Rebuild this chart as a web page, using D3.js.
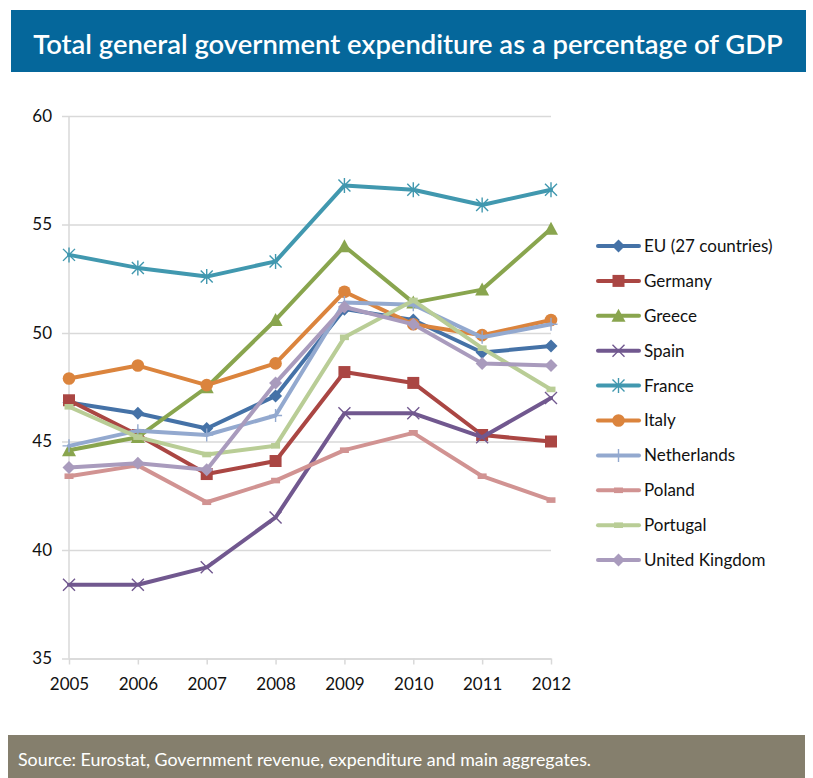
<!DOCTYPE html>
<html>
<head>
<meta charset="utf-8">
<script src="https://cdn.jsdelivr.net/npm/d3@7/dist/d3.min.js"></script>
<style>
  html, body { margin: 0; padding: 0; background: #ffffff; }
  svg { display: block; }
  text { font-family: Lato, "Open Sans", "Noto Sans", sans-serif; }
</style>
</head>
<body>
<svg id="chart" width="813" height="778"></svg>
<script>
// Years on the category axis
const years = [2005, 2006, 2007, 2008, 2009, 2010, 2011, 2012];

// Total general government expenditure, % of GDP
const eu27        = [46.8, 46.3, 45.6, 47.1, 51.1, 50.6, 49.1, 49.4];
const germany     = [46.9, 45.3, 43.5, 44.1, 48.2, 47.7, 45.3, 45.0];
const greece      = [44.6, 45.2, 47.5, 50.6, 54.0, 51.4, 52.0, 54.8];
const spain       = [38.4, 38.4, 39.2, 41.5, 46.3, 46.3, 45.2, 47.0];
const france      = [53.6, 53.0, 52.6, 53.3, 56.8, 56.6, 55.9, 56.6];
const italy       = [47.9, 48.5, 47.6, 48.6, 51.9, 50.4, 49.9, 50.6];
const netherlands = [44.8, 45.5, 45.3, 46.2, 51.4, 51.3, 49.8, 50.4];
const poland      = [43.4, 43.9, 42.2, 43.2, 44.6, 45.4, 43.4, 42.3];
const portugal    = [46.6, 45.2, 44.4, 44.8, 49.8, 51.5, 49.3, 47.4];
const uk          = [43.8, 44.0, 43.7, 47.7, 51.2, 50.4, 48.6, 48.5];

const seriesNames = ["EU (27 countries)", "Germany", "Greece", "Spain", "France",
                     "Italy", "Netherlands", "Poland", "Portugal", "United Kingdom"];
const seriesValues = [eu27, germany, greece, spain, france, italy, netherlands, poland, portugal, uk];
const seriesColors = ["#4572A7", "#AA4643", "#89A54E", "#71588F", "#4198AF",
                      "#DB843D", "#93A9CF", "#D19392", "#B9CD96", "#A99BBD"];
const seriesMarkers = ["diamond", "square", "triangle", "x", "star",
                       "circle", "plus", "dash", "dash", "diamond"];

const yTicks = [35, 40, 45, 50, 55, 60];

const titleText = "Total general government expenditure as a percentage of GDP";
const sourceText = "Source: Eurostat, Government revenue, expenditure and main aggregates.";

const svg = d3.select("#chart");

// Scale a text element's font size so the string spans a given width
function fitWidth(sel, target) {
  const node = sel.node();
  const fs = parseFloat(sel.attr("font-size"));
  const w = node.getComputedTextLength();
  const nfs = w > 0 ? fs * target / w : fs;
  sel.attr("font-size", nfs.toFixed(2));
  return nfs;
}

// Title band
svg.append("rect").attr("x", 11).attr("y", 10).attr("width", 795).attr("height", 62)
  .attr("fill", "#05679B");
const title = svg.append("text").attr("x", 408).attr("y", 54)
  .attr("text-anchor", "middle").attr("fill", "#ffffff")
  .attr("font-size", 26).attr("font-weight", 600).text(titleText);
fitWidth(title, 750);

// Source band
svg.append("rect").attr("x", 8).attr("y", 735).attr("width", 797).attr("height", 43)
  .attr("fill", "#857F6D");
const source = svg.append("text").attr("x", 18).attr("y", 766)
  .attr("fill", "#ffffff").attr("font-size", 16).text(sourceText);
fitWidth(source, 573);

// Plot geometry
const x = d3.scalePoint().domain(years).range([69, 551]);
const y = d3.scaleLinear().domain([35, 60]).range([658.5, 116]);

// Horizontal gridlines (extend a little left of the axis as tick marks)
svg.append("g")
  .attr("transform", "translate(551,0)")
  .call(d3.axisLeft(y).tickValues(yTicks).tickSize(551 - 62).tickFormat(""))
  .call(g => g.select(".domain").remove())
  .call(g => g.selectAll("line").attr("stroke", "#d9d9d9").attr("stroke-width", 1.5));

// Value labels
svg.append("g")
  .attr("transform", "translate(62,0)")
  .call(d3.axisLeft(y).tickValues(yTicks).tickSize(0).tickPadding(10).tickFormat(d3.format("d")))
  .call(g => g.select(".domain").remove())
  .call(g => g.selectAll("text").attr("font-size", 17).attr("fill", "#111")
    .style("font-family", "Lato, 'Open Sans', sans-serif"));

// Vertical axis line
svg.append("line").attr("x1", 69).attr("x2", 69).attr("y1", 116).attr("y2", 658.5)
  .attr("stroke", "#d9d9d9").attr("stroke-width", 1.5);

// Category axis
svg.append("g")
  .attr("transform", "translate(0,658.5)")
  .call(d3.axisBottom(x).tickSize(6).tickSizeOuter(0).tickPadding(13))
  .call(g => g.select(".domain").attr("stroke", "#d9d9d9").attr("stroke-width", 1.5))
  .call(g => g.selectAll("line").attr("stroke", "#d9d9d9").attr("stroke-width", 1.5))
  .call(g => g.selectAll("text").attr("font-size", 17).attr("fill", "#111")
    .style("font-family", "Lato, 'Open Sans', sans-serif"));

// Marker shapes
function markerPath(type) {
  const p = d3.path();
  if (type === "diamond") {
    const r = 6.5;
    p.moveTo(0, -r); p.lineTo(r, 0); p.lineTo(0, r); p.lineTo(-r, 0); p.closePath();
  } else if (type === "square") {
    const r = 6;
    p.rect(-r, -r, 2 * r, 2 * r);
  } else if (type === "triangle") {
    const r = 7;
    p.moveTo(0, -r); p.lineTo(r, r * 0.85); p.lineTo(-r, r * 0.85); p.closePath();
  } else if (type === "circle") {
    p.arc(0, 0, 6.3, 0, 2 * Math.PI);
  } else if (type === "x") {
    const r = 6;
    p.moveTo(-r, -r); p.lineTo(r, r); p.moveTo(-r, r); p.lineTo(r, -r);
  } else if (type === "star") {
    const r = 6;
    p.moveTo(-r, -r); p.lineTo(r, r); p.moveTo(-r, r); p.lineTo(r, -r);
    p.moveTo(0, -r * 1.25); p.lineTo(0, r * 1.25);
  } else if (type === "plus") {
    const r = 6.5;
    p.moveTo(-r, 0); p.lineTo(r, 0); p.moveTo(0, -r); p.lineTo(0, r);
  } else if (type === "dash") {
    p.rect(-4.5, -2.8, 9, 5.6);
  }
  return p.toString();
}
const strokeOnly = t => t === "x" || t === "star" || t === "plus";

const line = d3.line().x((d, i) => x(years[i])).y(d => y(d));

// Series
seriesValues.forEach((vals, si) => {
  const color = seriesColors[si];
  const mk = seriesMarkers[si];
  const g = svg.append("g").attr("class", "series");
  g.append("path").datum(vals).attr("d", line)
    .attr("fill", "none").attr("stroke", color).attr("stroke-width", 4)
    .attr("stroke-linejoin", "round").attr("stroke-linecap", "round");
  g.selectAll("path.mk").data(vals).join("path").attr("class", "mk")
    .attr("transform", (d, i) => `translate(${x(years[i])},${y(d)})`)
    .attr("d", markerPath(mk))
    .attr("fill", strokeOnly(mk) ? "none" : color)
    .attr("stroke", color)
    .attr("stroke-width", strokeOnly(mk) ? 1.4 : 0);
});

// Legend
const legend = svg.append("g").attr("transform", "translate(598,246)");
let legendFont = 16;
seriesNames.forEach((name, si) => {
  const color = seriesColors[si];
  const mk = seriesMarkers[si];
  const row = legend.append("g").attr("transform", `translate(0,${si * 34.9})`);
  row.append("line").attr("x1", 0).attr("x2", 41).attr("y1", 0).attr("y2", 0)
    .attr("stroke", color).attr("stroke-width", 4).attr("stroke-linecap", "round");
  row.append("path").attr("transform", "translate(20.5,0)").attr("d", markerPath(mk))
    .attr("fill", strokeOnly(mk) ? "none" : color)
    .attr("stroke", color).attr("stroke-width", strokeOnly(mk) ? 1.4 : 0);
  const t = row.append("text").attr("x", 46).attr("y", 0).attr("dy", "0.35em")
    .attr("font-size", legendFont).attr("fill", "#111").text(name);
  // size the legend text from its first entry, then reuse that size for every row
  if (si === 0) legendFont = Math.min(17, fitWidth(t, 133));
  t.attr("font-size", legendFont.toFixed(2));
});
</script>
</body>
</html>
